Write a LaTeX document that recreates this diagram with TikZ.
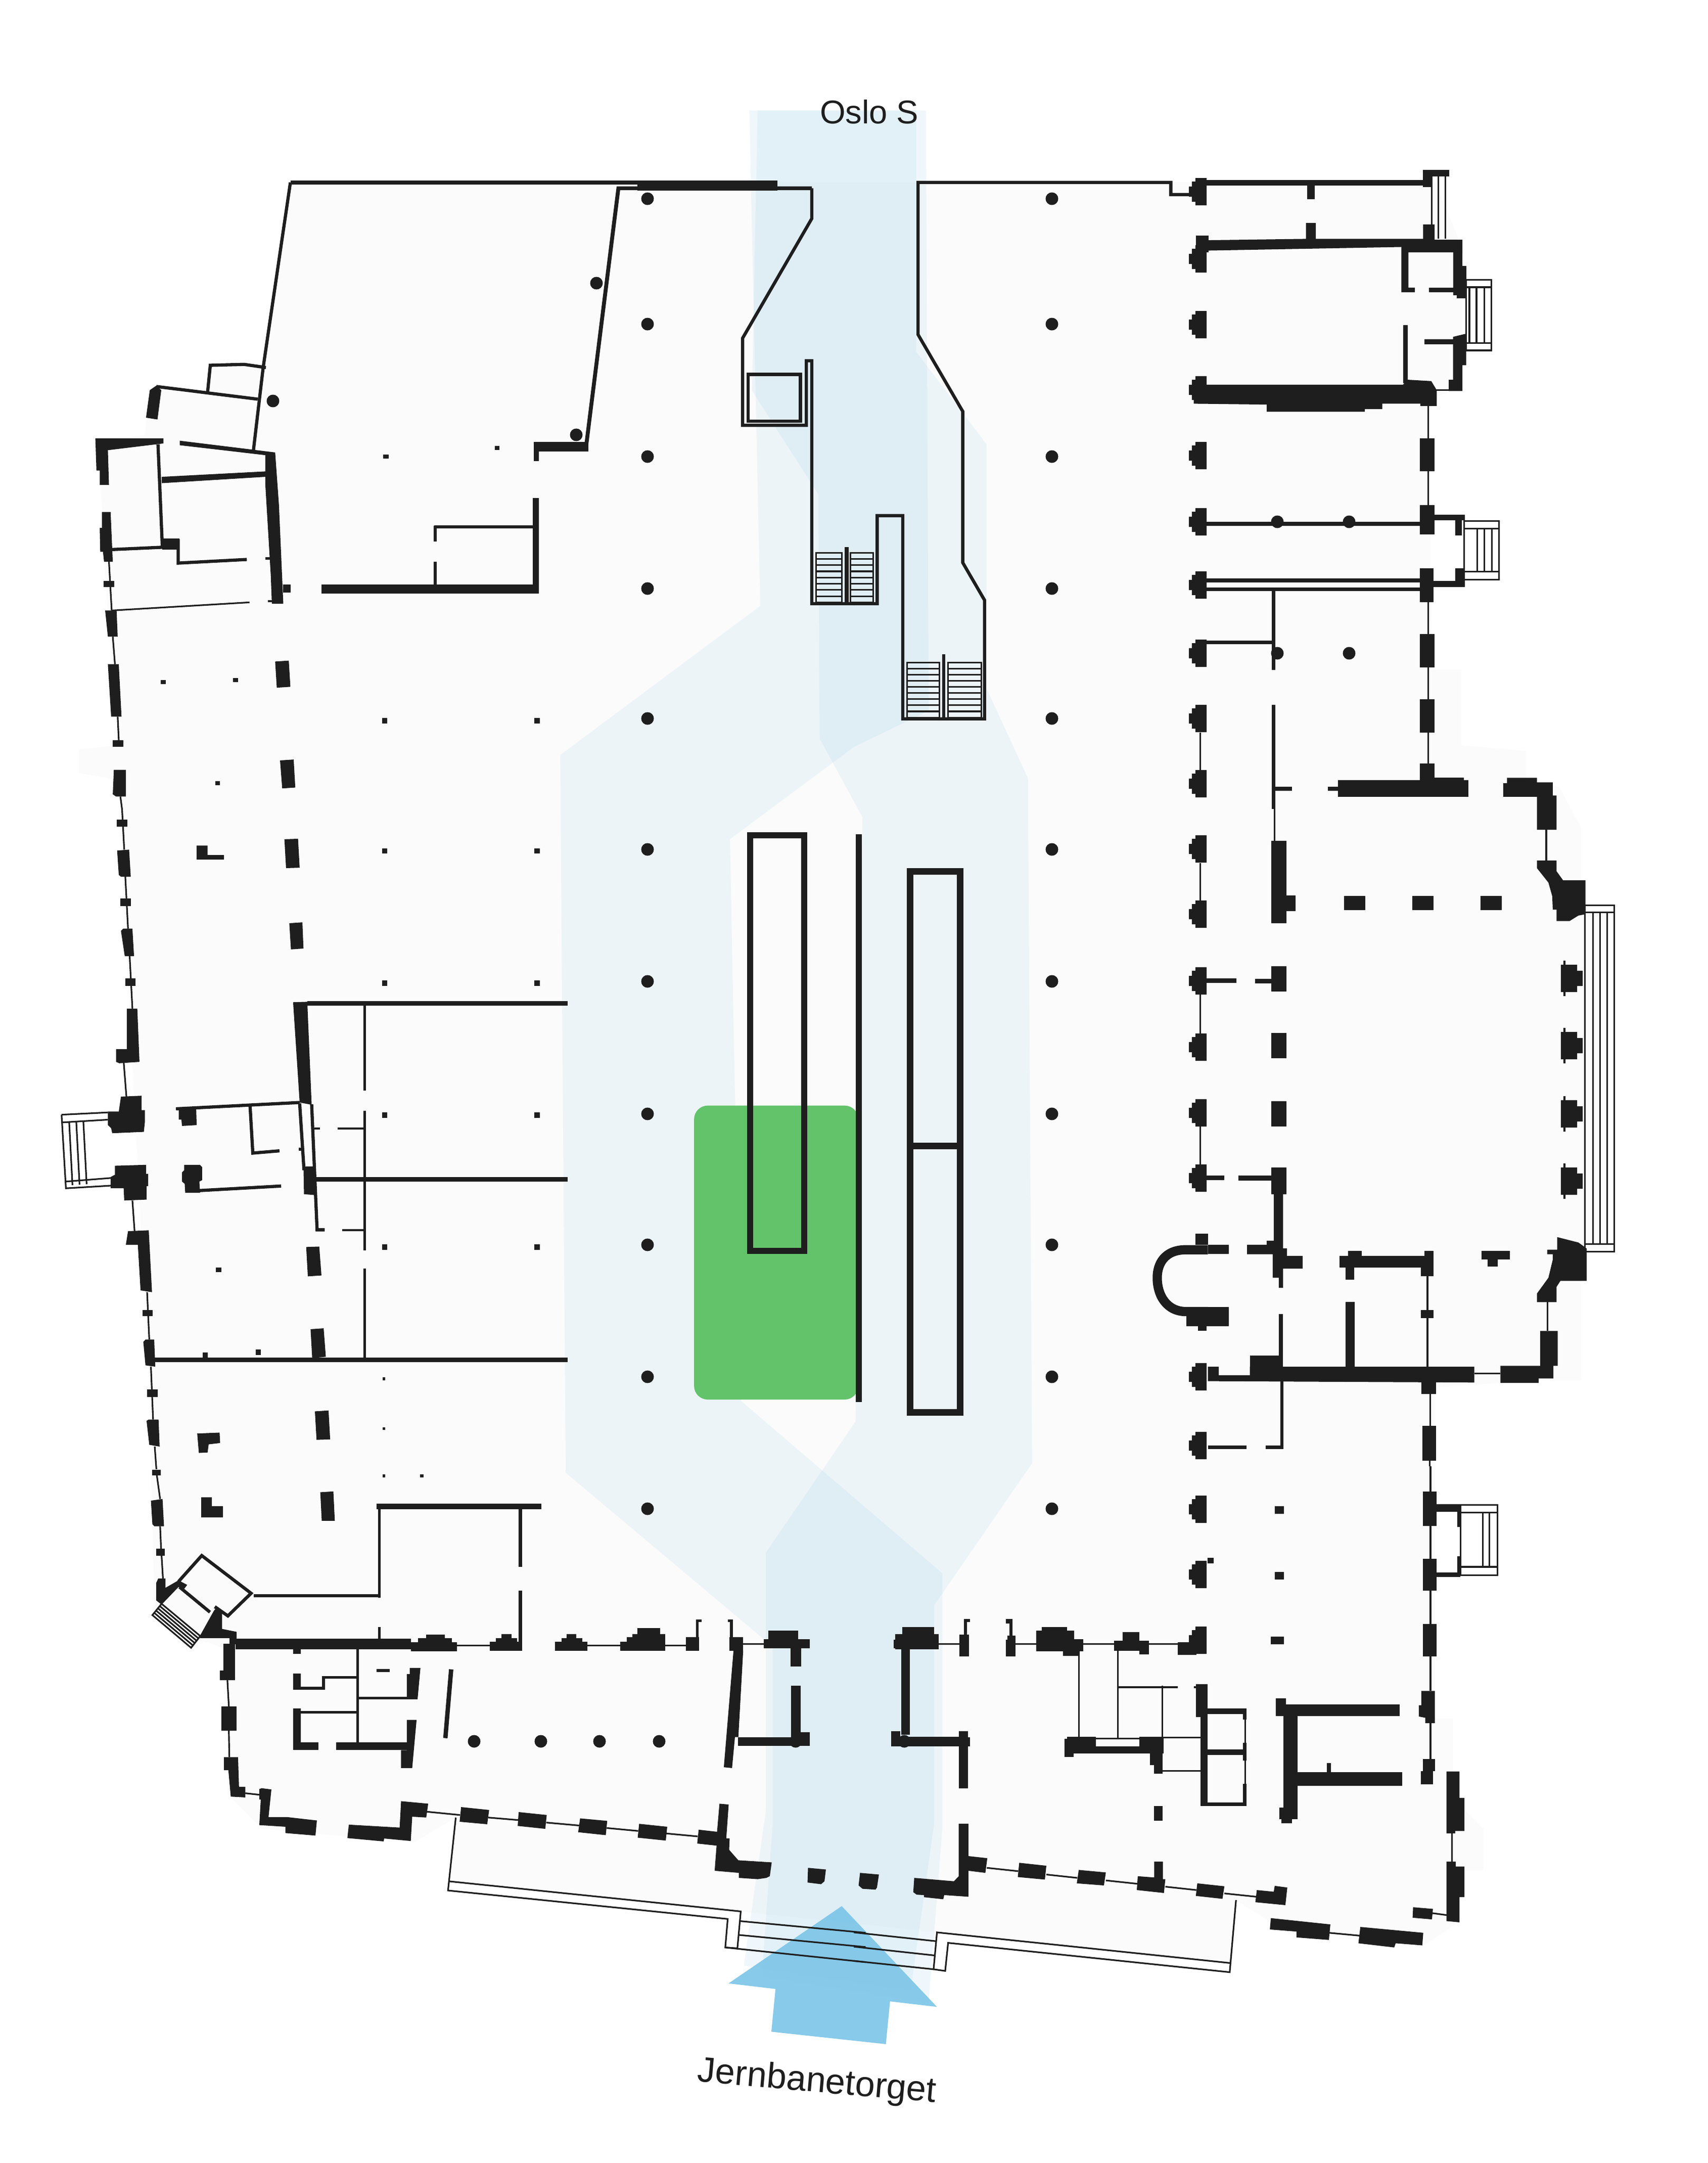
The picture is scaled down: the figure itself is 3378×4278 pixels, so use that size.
\documentclass[tikz,border=0pt]{standalone}
\usepackage{fontspec}
\setmainfont{Liberation Sans}
\definecolor{ink}{HTML}{1E1E1E}
\definecolor{floorgrey}{HTML}{FBFBFB}
\definecolor{routeblue}{HTML}{88C5E4}
\definecolor{shopgreen}{HTML}{63C36A}
\definecolor{arrowblue}{HTML}{7DC5E8}
\tikzset{
	hair/.style={draw=ink,line width=0.9pt},
	partition/.style={draw=ink,line width=1.8pt},
	route/.style={fill=routeblue,fill opacity=0.13},
	sheetw/.style={shift={(0,200)},x=0.010772cm,y=-0.008929cm},
	sheete/.style={shift={(1689,200)},x=0.010772cm,y=-0.008929cm},
	midw/.style={shift={(0,1600)},x=0.010772cm,y=-0.008929cm},
	mide/.style={shift={(1689,1500)},x=0.010772cm,y=-0.008929cm},
	lowerw/.style={shift={(200,2900)},x=0.009566cm,y=-0.00829cm},
	lowere/.style={shift={(1689,2900)},x=0.009566cm,y=-0.00829cm},
	overview/.style={x=0.02729cm,y=-0.02729cm}
}
\newcommand\blocks[1]{\foreach \a/\b/\c/\d in {#1} \fill[ink] (\a,\b) rectangle (\c,\d);}
\newcommand\hairs[1]{\foreach \a/\b/\c/\d in {#1} \draw[hair] (\a,\b) -- (\c,\d);}
\newcommand\pillarw[2]{\fill[ink] (#1,#2) ++(0,-10) rectangle ++(13,20) (#1,#2) ++(6,-20) rectangle ++(7,40) (#1,#2) ++(13,-27) rectangle ++(22,54);}
\newcommand\pillare[2]{\fill[ink] (#1,#2) ++(0,-27) rectangle ++(32,54) (#1,#2) ++(32,-15) rectangle ++(11,30) (#1,#2) ++(5,-35) rectangle ++(4,70);}
\newcommand\treads[5]{\draw[hair] (#1,#2) rectangle (#3,#4);
	\foreach \i in {1,...,#5} {\pgfmathsetmacro\yy{#2+\i*(#4-#2)/(#5+1)} \draw[hair] (#1,\yy) -- (#3,\yy);}}
\begin{document}
\begin{tikzpicture}[x=0.01cm,y=-0.01cm]
	\useasboundingbox (0,0) rectangle (3378,4278);

	%%%%% floor and routes %%%%%
	\begin{scope}[overview]
		\fill[floorgrey] (211,132) -- (1040,132) -- (1060,180) -- (1060,280) -- (1035,290) -- (1038,485) -- (1059,485) -- (1059,540) -- (1106,544) -- (1106,565) -- (1130,570) -- (1146,600) -- (1146,660) -- (1165,660) -- (1165,905) -- (1146,905) -- (1146,1000) -- (1120,1000) -- (1040,1005) -- (1040,1245) -- (1053,1245) -- (1053,1310) -- (1060,1310) -- (1075,1325) -- (1075,1355) -- (1058,1355) -- (1058,1392) -- (1031,1410) -- (920,1392) -- (896,1377) -- (891,1423) -- (679,1400) -- (537,1385) -- (325,1363) -- (330,1317) -- (300,1335) -- (190,1325) -- (165,1300) -- (165,1195) -- (135,1185) -- (112,1165) -- (108,1000) -- (85,565) -- (57,560) -- (57,543) -- (85,540) -- (75,400) -- (72,320) -- (105,315) -- (108,283) -- (150,285) -- (153,265) -- (191,264) -- cycle;
		\fill[route] (543,80) -- (671,80) -- (673,515) -- (619,541) -- (529,608) -- (537,1015) -- (683,1140) -- (683,1324) -- (673,1451) -- (552,1432) -- (560,1321) -- (560,1193) -- (410,1067) -- (406,547) -- (551,439) -- cycle;
		\fill[route] (549,80) -- (664,80) -- (664,255) -- (715,322) -- (715,499) -- (745,564) -- (748,1060) -- (677,1163) -- (677,1321) -- (660,1442) -- (539,1424) -- (555,1312) -- (555,1125) -- (620,1030) -- (625,592) -- (594,535) -- (593,358) -- (545,283) -- cycle;
		\fill[shopgreen,rounded corners=0.27cm] (503,801) rectangle (622,1014);
		\fill[arrowblue,fill opacity=0.92] (610,1381) -- (679,1454) -- (645,1450) -- (642,1481) -- (559,1472) -- (562,1441) -- (528,1437) -- cycle;
		\node (oslo) at (630,81) {\fontsize{18.5}{20}\selectfont\color{ink}Oslo S};
		\node[rotate=-5] (jernbanetorget) at (592,1509) {\fontsize{20}{22}\selectfont\color{ink}Jernbanetorget};
	\end{scope}

	%%%%% columns %%%%%
	\foreach \y in {393,641,903,1164,1421,1680,1941,2203,2462,2723,2984} {
		\fill[ink] (1281,\y) circle (0.125cm);
		\fill[ink] (2081,\y) circle (0.125cm);
	}
	\foreach \x/\y in {1180/560,1140/860,540/793,2527/1032,2669/1032,2527/1292,2669/1292,938/3444,1070/3444,1186/3444,1304/3444,1574/3444,1789/3444} {
		\fill[ink] (\x,\y) circle (0.125cm);
	}
	\foreach \y in {379,512,642,771,901,1032,1157,1292,1421,1550,1679,1808,1940,2071,2201,2330,2723,2859,2985,3114,3244} {
		\pillarw{2352}{\y}
	}
	\foreach \y in {1935,2068,2203,2336} {
		\pillare{3088}{\y}
	}

	%%%%% north west %%%%%
	\begin{scope}[sheetw]
		\draw[partition] (533,180) -- (483,590) -- (465,775);
		\draw[draw=ink,line width=2.2pt] (533,180) -- (1172,180);
		\draw[draw=ink,line width=2.2pt] (1075,772) -- (1135,193) -- (1490,193);
		\draw[partition] (1490,193) -- (1490,260) -- (1363,525) -- (1363,718) -- (1480,718) -- (1480,575) -- (1490,575) -- (1490,1113) -- (1568,1113);
		\draw[partition] (1373,605) rectangle (1469,709);
		\draw[partition] (381,645) -- (386,585) -- (448,583) -- (488,590);
		\draw[partition] (287,632) -- (473,660);
		\draw[partition] (290,760) -- (298,988) -- (205,993);
		\draw[partition] (327,970) -- (327,1023) -- (453,1015);
		\draw[partition] (797,943) -- (980,943);
		\draw[partition] (799,941) -- (799,975);
		\draw[partition] (799,1020) -- (799,1070);
		\treads{1498}{1000}{1545}{1110}{7}
		\blocks{1170/176/1427/198, 980/755/1080/776, 980/776/989/797, 590/1070/989/1090, 978/879/989/1070, 298/968/329/993, 520/1070/533/1088, 487/1010/497/1016, 492/1105/500/1110, 190/1062/210/1076, 207/1415/226/1430, 1550/988/1558/1112, 703/783/713/792, 908/764/917/773, 295/1282/304/1291, 428/1277/437/1286, 701/1366/711/1378, 981/1366/991/1378, 395/1506/404/1515}
		\hairs{200/1020/205/1128, 205/1128/458/1110, 207/1186/211/1247, 216/1363/218/1415, 221/1540/224/1568}
		\fill[ink] (275,640) -- (287,630) -- (296,640) -- (289,705) -- (268,701) -- cycle;
		\fill[ink] (175,747) -- (300,747) -- (300,758) -- (198,773) -- (200,850) -- (183,850) -- (183,818) -- (177,818) -- cycle;
		\fill[ink] (187,910) -- (203,910) -- (207,1020) -- (191,1020) -- (189,998) -- (184,998) -- (183,945) -- (187,945) -- cycle;
		\fill[ink] (330,752) -- (505,778) -- (512,895) -- (520,1113) -- (499,1113) -- (497,1050) -- (487,850) -- (487,784) -- (330,762) -- cycle;
		\fill[ink] (297,832) -- (487,820) -- (487,832) -- (297,846) -- cycle;
		\fill[ink] (193,1128) -- (214,1128) -- (216,1186) -- (198,1186) -- cycle;
		\fill[ink] (198,1247) -- (218,1247) -- (223,1363) -- (204,1363) -- cycle;
		\fill[ink] (209,1481) -- (231,1481) -- (231,1540) -- (213,1540) -- (207,1535) -- cycle;
		\fill[ink] (505,1241) -- (530,1239) -- (533,1297) -- (508,1299) -- cycle;
		\fill[ink] (514,1460) -- (539,1458) -- (542,1520) -- (518,1522) -- cycle;
	\end{scope}

	%%%%% north east %%%%%
	\begin{scope}[sheete]
		\draw[partition] (0,1113) -- (43,1113) -- (43,918) -- (90,918) -- (90,1368) -- (240,1368) -- (240,1105) -- (200,1022) -- (200,687) -- (118,517) -- (118,180) -- (582,180) -- (582,207) -- (615,207);
		\treads{-6}{1000}{36}{1110}{7}
		\treads{98}{1243}{157}{1365}{8}
		\treads{173}{1243}{234}{1365}{8}
		\draw[hair] (1120,930) rectangle (1184,1060);
		\draw[hair] (1124,396) rectangle (1170,552);
		\hairs{1124/412/1170/412, 1124/536/1170/536, 1130/412/1130/536, 1143/412/1143/536, 1157/412/1157/536, 1061/167/1061/305, 1073/167/1073/305, 1086/167/1086/305, 1120/947/1184/947, 1120/1042/1184/1042, 1144/947/1144/1042, 1157/947/1157/1042, 1171/947/1171/1042, 1054/675/1054/748, 1054/820/1054/895, 1054/1110/1054/1180, 1054/1254/1054/1325, 1054/1398/1054/1467, 636/1398/636/1482, 1068/640/1092/640}
		\blocks{162/1225/168/1365, 648/175/1050/187, 832/187/846/217, 1045/152/1093/167, 1045/152/1060/190, 628/298/651/335, 1100/335/1117/430, 1107/365/1124/437, 1056/413/1100/423, 1008/496/1017/625, 1047/527/1100/538, 1039/747/1066/820, 1039/895/1066/960, 1066/916/1122/928, 1104/928/1116/962, 648/931/1039/941, 1039/1035/1064/1110, 1064/1063/1122/1076, 1104/1035/1122/1063, 648/1057/1039/1066, 648/1077/1039/1085, 767/1085/774/1260, 648/1195/767/1203, 767/1337/774/1568, 1039/1180/1066/1254, 1039/1325/1066/1398, 1039/1467/1066/1505}
		\fill[ink] (628,298) -- (651,298) -- (651,308) -- (830,305) -- (830,270) -- (848,270) -- (848,305) -- (1045,305) -- (1045,273) -- (1066,273) -- (1066,307) -- (1117,307) -- (1117,335) -- (1018,335) -- (1018,413) -- (1030,413) -- (1030,423) -- (1005,423) -- (1005,323) -- (648,331) -- cycle;
		\fill[ink] (1100,522) -- (1124,515) -- (1124,585) -- (1117,585) -- (1117,642) -- (1092,642) -- (1092,617) -- (1100,617) -- cycle;
		\fill[ink] (624,628) -- (1008,628) -- (1017,617) -- (1060,620) -- (1070,640) -- (1070,675) -- (1040,675) -- (1040,670) -- (970,670) -- (970,682) -- (938,682) -- (938,688) -- (758,688) -- (758,672) -- (624,670) -- cycle;
	\end{scope}

	%%%%% west middle %%%%%
	\begin{scope}[midw]
		\draw[hair] (113,677) -- (198,672);
		\draw[hair] (113,677) -- (121,840) -- (205,834);
		\hairs{115/694/198/688, 121/825/205/817, 127/694/133/833, 140/693/146/832, 153/692/159/831}
		\hairs{224/0/228/90, 230/150/235/265, 238/326/243/442, 227/560/232/637, 243/867/247/935, 270/1070/274/1175, 277/1235/281/1352, 284/1412/287/1462}
		\draw[partition] (459,658) -- (464,762) -- (513,757);
		\draw[partition] (550,652) -- (558,800);
		\draw[partition] (572,654) -- (582,932) -- (596,932);
		\draw[partition] (366,845) -- (516,835);
		\draw[partition] (323,664) -- (550,650);
		\blocks{214/23/234/39, 221/198/240/215, 230/375/249/392, 262/1110/280/1123, 270/1285/289/1302, 561/792/576/800, 577/705/587/710, 620/705/670/710, 628/930/670/935, 564/426/1042/436, 667/436/672/624, 667/668/672/977, 667/1018/672/1216, 580/815/1042/825, 284/1215/1042/1225, 548/750/555/757, 701/87/711/99, 981/87/991/99, 701/380/711/392, 981/380/991/392, 701/672/711/684, 981/672/991/684, 701/964/711/976, 981/964/991/976, 396/1015/406/1026, 372/1204/381/1216, 469/1197/479/1209, 702/1259/707/1265, 702/1369/707/1375, 702/1474/707/1480, 771/1474/777/1480}
		\fill[ink] (215,92) -- (237,90) -- (240,150) -- (222,150) -- (218,146) -- cycle;
		\fill[ink] (226,265) -- (243,265) -- (246,326) -- (229,326) -- (222,270) -- cycle;
		\fill[ink] (233,442) -- (252,442) -- (256,560) -- (219,563) -- (213,560) -- (213,532) -- (233,532) -- cycle;
		\fill[ink] (222,637) -- (260,635) -- (260,667) -- (266,667) -- (266,692) -- (264,715) -- (206,718) -- (204,707) -- (198,700) -- (198,670) -- (218,670) -- cycle;
		\fill[ink] (211,790) -- (268,788) -- (268,808) -- (272,808) -- (272,835) -- (269,835) -- (269,865) -- (228,867) -- (227,840) -- (203,840) -- (203,815) -- (211,810) -- cycle;
		\fill[ink] (235,935) -- (273,933) -- (279,1070) -- (258,1066) -- (253,965) -- (231,965) -- cycle;
		\fill[ink] (267,1175) -- (283,1175) -- (285,1235) -- (267,1232) -- (263,1180) -- cycle;
		\fill[ink] (273,1352) -- (291,1352) -- (293,1412) -- (274,1408) -- (269,1355) -- cycle;
		\fill[ink] (361,81) -- (381,81) -- (381,102) -- (411,102) -- (411,112) -- (361,112) -- cycle;
		\fill[ink] (522,67) -- (547,66) -- (550,130) -- (525,131) -- cycle;
		\fill[ink] (531,253) -- (555,251) -- (557,309) -- (534,311) -- cycle;
		\fill[ink] (538,428) -- (564,427) -- (572,655) -- (550,650) -- cycle;
		\fill[ink] (328,663) -- (360,661) -- (361,700) -- (334,702) -- (333,688) -- (328,688) -- cycle;
		\fill[ink] (557,792) -- (576,792) -- (579,855) -- (558,853) -- cycle;
		\fill[ink] (338,788) -- (367,788) -- (371,793) -- (371,822) -- (366,825) -- (367,850) -- (340,850) -- (339,830) -- (334,825) -- (334,805) -- (338,800) -- cycle;
		\fill[ink] (562,970) -- (586,969) -- (590,1033) -- (565,1035) -- cycle;
		\fill[ink] (570,1152) -- (594,1150) -- (598,1213) -- (573,1216) -- cycle;
		\fill[ink] (578,1334) -- (603,1332) -- (606,1396) -- (581,1397) -- cycle;
		\fill[ink] (362,1383) -- (403,1381) -- (404,1404) -- (383,1407) -- (381,1425) -- (365,1426) -- cycle;
		%% long shelves in the hall
		\draw[ink,line width=3.4pt] (1377,58) rectangle (1476,979);
	\end{scope}

	%%%%% east middle %%%%%
	\begin{scope}[mide]
		\draw[ink,line width=3.7pt] (103,250) rectangle (195,1448);
		\draw[ink,line width=3.7pt] (103,858) -- (195,858);
		\draw[hair] (1342,325) rectangle (1396,1092);
		\hairs{1342/341/1396/341, 1342/1075/1396/1075, 1357/341/1357/1075, 1370/341/1370/1075, 1383/341/1383/1075}
		\hairs{772/85/772/183, 1271/158/1271/226, 636/232/636/315, 636/523/636/610, 636/815/636/900, 1053/1147/1053/1350, 1139/1362/1187/1362, 1273/1204/1273/1268, 1058/1407/1058/1478, 1057/1555/1057/1568}
		\draw[ink,line width=5.2pt] (650,1088) -- (610,1088) .. controls (570,1088) and (557,1120) .. (557,1150) .. controls (557,1190) and (575,1225) .. (610,1225) -- (650,1225);
		\blocks{4/168/15/1425, 889/48/1128/85, 1066/43/1120/48, 870/63/889/72, 773/63/804/72, 767/112/774/85, 766/183/794/365, 794/303/811/338, 900/305/939/336, 1025/305/1064/336, 1150/305/1189/336, 648/487/702/497, 737/488/766/498, 766/460/794/516, 766/608/794/664, 766/759/794/815, 648/924/680/934, 706/924/770/935, 766/906/794/965, 627/1053/650/1077, 650/1077/688/1097, 610/1215/688/1257, 632/1257/648/1268, 907/1090/932/1102, 892/1102/1047/1127, 903/1127/918/1154, 1047/1090/1064/1127, 1041/1127/1064/1147, 1152/1090/1204/1110, 1163/1110/1182/1125, 1041/1222/1064/1240, 903/1204/919/1350, 780/1230/788/1350, 727/1322/780/1350, 1042/1375/1069/1407, 1044/1478/1069/1555, 783/1379/789/1530, 756/1522/789/1530, 650/1522/721/1530}
		\fill[ink] (1199,43) -- (1254,43) -- (1254,53) -- (1283,53) -- (1283,82) -- (1290,82) -- (1290,158) -- (1254,158) -- (1254,85) -- (1192,85) -- (1192,55) -- (1199,55) -- cycle;
		\fill[ink] (1254,226) -- (1290,226) -- (1290,250) -- (1302,270) -- (1343,270) -- (1343,345) -- (1330,348) -- (1314,360) -- (1290,360) -- (1290,335) -- (1283,335) -- (1282,305) -- (1275,275) -- (1254,243) -- cycle;
		\fill[ink] (1273,1088) -- (1291,1088) -- (1291,1060) -- (1330,1072) -- (1345,1085) -- (1345,1157) -- (1297,1157) -- (1290,1170) -- (1290,1204) -- (1254,1204) -- (1254,1185) -- (1275,1150) -- (1283,1110) -- (1283,1098) -- (1273,1098) -- cycle;
		\fill[ink] (771,965) -- (788,965) -- (788,1085) -- (795,1085) -- (795,1102) -- (824,1102) -- (824,1130) -- (788,1130) -- (788,1172) -- (780,1172) -- (780,1150) -- (769,1150) -- (769,1098) -- (722,1098) -- (722,1077) -- (758,1077) -- (758,1068) -- (771,1068) -- cycle;
		\fill[ink] (650,1347) -- (670,1347) -- (670,1366) -- (727,1366) -- (727,1347) -- (1139,1347) -- (1139,1382) -- (650,1379) -- cycle;
		\fill[ink] (1187,1345) -- (1260,1345) -- (1260,1268) -- (1292,1268) -- (1292,1345) -- (1284,1345) -- (1284,1373) -- (1257,1373) -- (1257,1383) -- (1187,1383) -- cycle;
	\end{scope}

	%%%%% south west %%%%%
	\begin{scope}[lowerw]
		\draw[hair] (733,838) -- (717,1012) -- (1295,1080) -- (1290,1148) -- (1315,1150) -- (1322,1062) -- (718,990);
		\hairs{1320/1085/1580/1113, 1317/1118/1580/1147, 1290/1148/1580/1183}
		\hairs{115/20/122/78, 122/143/124/197, 125/213/128/270, 261/510/264/573, 264/631/265/694, 298/780/330/784, 672/824/742/832, 800/838/862/844, 920/850/988/857, 1045/863/1110/870, 1168/876/1233/883, 735/428/803/428, 1005/428/1073/428, 1166/428/1209/428, 1327/424/1370/424}
		\draw[partition] (160,275) -- (208,213) -- (310,303) -- (262,357) -- (235,335);
		\draw[partition] (162,288) -- (225,348);
		\draw[hair] (125,328) -- (106,355) -- (186,433) -- (205,405) -- cycle;
		\foreach \i in {1,2,3,4} {\draw[hair] (125-3.8*\i,328+5.4*\i) -- (205-3.8*\i,405+5.6*\i);}
		\blocks{569/89/910/103, 572/103/578/313, 863/103/870/240, 863/297/870/440, 572/384/578/411, 315/305/575/312, 265/410/280/425, 278/411/640/437, 640/420/735/442, 655/410/725/420, 672/402/710/410, 803/418/870/440, 816/410/860/418, 827/400/848/410, 938/418/1005/440, 952/410/995/418, 962/400/982/410, 1073/418/1166/440, 1086/408/1166/418, 1098/400/1166/410, 1108/386/1155/400, 1209/408/1236/440, 1230/365/1235/408, 1230/365/1241/371, 1295/365/1306/371, 1300/365/1306/410, 1299/408/1327/440, 1370/413/1465/434, 1379/392/1441/413, 1425/434/1447/478, 1426/523/1446/634, 1426/634/1465/667, 1316/646/1426/667, 253/423/277/510, 245/487/253/510, 249/573/280/631, 397/437/413/447, 528/437/533/660, 532/550/654/556, 569/484/597/491, 397/495/413/533, 413/526/463/533, 457/500/463/526, 463/500/528/507, 397/578/413/677, 413/584/528/590, 413/658/449/677, 486/659/632/677, 114/197/132/213, 105/8/123/22}
		\fill[ink] (103,82) -- (127,78) -- (130,143) -- (110,143) -- (106,138) -- cycle;
		\fill[ink] (207,74) -- (229,74) -- (229,95) -- (252,95) -- (252,122) -- (207,122) -- cycle;
		\fill[ink] (453,62) -- (480,60) -- (483,130) -- (456,130) -- cycle;
		\fill[ink] (114,278) -- (118,268) -- (133,268) -- (133,290) -- (160,272) -- (178,283) -- (172,292) -- (160,288) -- (125,330) -- (114,320) -- cycle;
		\fill[ink] (205,403) -- (233,345) -- (240,335) -- (250,348) -- (250,388) -- (280,395) -- (280,410) -- (205,410) -- cycle;
		\fill[ink] (1307,440) -- (1327,440) -- (1317,646) -- (1310,646) -- (1304,720) -- (1287,718) -- cycle;
		\fill[ink] (638,481) -- (660,481) -- (654,556) -- (632,556) -- (632,496) -- (638,496) -- cycle;
		\fill[ink] (632,605) -- (652,605) -- (643,720) -- (620,720) -- (620,677) -- (632,677) -- cycle;
		\fill[ink] (719,484) -- (728,485) -- (716,649) -- (707,648) -- cycle;
		\fill[ink] (254,694) -- (283,694) -- (285,765) -- (298,765) -- (298,790) -- (268,788) -- (263,725) -- (254,725) -- cycle;
		\fill[ink] (332,768) -- (352,771) -- (346,837) -- (385,837) -- (446,845) -- (443,881) -- (381,875) -- (381,860) -- (327,856) -- (330,795) -- (327,795) -- (327,770) -- cycle;
		\fill[ink] (512,855) -- (617,862) -- (620,799) -- (676,805) -- (672,838) -- (643,836) -- (640,894) -- (585,888) -- (584,895) -- (509,887) -- cycle;
		\fill[ink] (744,813) -- (802,820) -- (798,854) -- (741,848) -- cycle;
		\fill[ink] (863,825) -- (921,832) -- (918,865) -- (861,858) -- cycle;
		\fill[ink] (990,840) -- (1046,846) -- (1043,880) -- (986,873) -- cycle;
		\fill[ink] (1112,853) -- (1170,860) -- (1167,893) -- (1109,886) -- cycle;
		\fill[ink] (1235,867) -- (1273,872) -- (1278,805) -- (1297,807) -- (1292,888) -- (1299,888) -- (1298,915) -- (1317,940) -- (1386,945) -- (1382,978) -- (1375,982) -- (1357,985) -- (1318,982) -- (1318,970) -- (1268,965) -- (1272,905) -- (1232,900) -- cycle;
		\fill[ink] (1461,958) -- (1498,962) -- (1495,990) -- (1488,997) -- (1460,993) -- cycle;
	\end{scope}

	%%%%% south east %%%%%
	\begin{scope}[lowere]
		\draw[hair] (790,1035) -- (777,1207) -- (195,1137) -- (189,1204) -- (165,1200) -- (172,1112) -- (777,1185);
		\hairs{0/1112/170/1133, 0/1146/167/1167, 0/1180/165/1200}
		\hairs{275/958/340/966, 398/974/462/982, 521/988/586/996, 644/1003/708/1011, 766/1019/832/1027, 982/1113/1047/1120, 1195/1066/1227/1071, 1236/876/1236/943, 1192/0/1192/60, 1192/142/1192/221, 1192/297/1192/376, 1192/454/1192/536, 1192/613/1192/698, 176/424/218/424, 334/424/377/424, 474/424/538/424, 610/424/670/424, 465/442/465/645, 546/440/546/650, 546/527/670/527, 638/524/638/645, 500/650/590/650, 623/647/717/647, 638/727/717/727, 809/604/809/660, 809/702/809/757}
		\draw[hair] (1254,92) rectangle (1330,260);
		\hairs{1254/110/1330/110, 1254/240/1330/240, 1300/110/1300/240, 1314/110/1314/240}
		\blocks{731/218/744/232, 670/420/708/450, 98/437/116/640, 77/632/96/668, 96/645/217/668, 217/632/236/668, 217/646/240/668, 217/668/236/768, 218/402/238/453, 228/364/240/372, 228/372/234/402, 314/364/328/375, 322/375/328/404, 318/404/334/414, 314/414/334/453, 377/392/455/442, 389/383/441/392, 432/412/474/442, 432/442/465/452, 538/416/610/440, 556/396/590/416, 590/440/610/449, 100/383/166/437, 86/400/176/437, 82/414/100/434, 441/645/500/668, 436/650/454/693, 454/668/640/685, 590/645/640/668, 612/685/638/713, 621/713/638/733, 707/520/731/598, 703/525/707/530, 717/598/731/810, 731/578/812/591, 804/591/812/604, 731/675/812/689, 804/660/812/702, 804/757/812/810, 731/802/804/810, 621/811/638/846, 872/554/893/596, 893/568/1128/596, 888/596/917/840, 917/730/1133/762, 978/708/986/730, 880/814/917/842, 884/842/906/851, 1176/60/1204/142, 1204/90/1254/108, 1247/108/1254/145, 1176/221/1204/297, 1204/253/1254/264, 1247/215/1254/253, 1176/376/1204/454, 1176/698/1201/727, 1172/727/1197/759, 870/95/889/113, 870/252/889/270, 862/406/889/425}
		\fill[ink] (13,970) -- (52,974) -- (48,1005) -- (45,1010) -- (18,1008) -- (10,1000) -- cycle;
		\fill[ink] (125,982) -- (207,990) -- (217,978) -- (217,853) -- (237,853) -- (237,1027) -- (187,1023) -- (185,1033) -- (145,1028) -- (145,1023) -- (130,1022) -- (123,1016) -- cycle;
		\fill[ink] (237,930) -- (276,935) -- (272,970) -- (237,965) -- cycle;
		\fill[ink] (342,946) -- (398,953) -- (395,986) -- (339,980) -- cycle;
		\fill[ink] (465,963) -- (521,969) -- (517,1000) -- (461,995) -- cycle;
		\fill[ink] (587,978) -- (621,981) -- (621,943) -- (639,943) -- (639,985) -- (644,985) -- (641,1018) -- (585,1011) -- cycle;
		\fill[ink] (710,995) -- (766,1002) -- (762,1032) -- (707,1025) -- cycle;
		\fill[ink] (833,1011) -- (868,1015) -- (870,1001) -- (896,1005) -- (892,1047) -- (830,1040) -- cycle;
		\fill[ink] (862,1078) -- (985,1093) -- (982,1130) -- (915,1124) -- (915,1110) -- (860,1105) -- cycle;
		\fill[ink] (1047,1099) -- (1177,1113) -- (1175,1143) -- (1120,1138) -- (1117,1148) -- (1043,1138) -- cycle;
		\fill[ink] (1156,1052) -- (1197,1056) -- (1195,1081) -- (1155,1077) -- cycle;
		\fill[ink] (1225,943) -- (1244,943) -- (1244,955) -- (1262,955) -- (1262,1028) -- (1252,1028) -- (1252,1088) -- (1225,1085) -- cycle;
		\fill[ink] (1225,728) -- (1252,728) -- (1252,791) -- (1262,791) -- (1262,870) -- (1243,870) -- (1243,876) -- (1225,876) -- cycle;
		\fill[ink] (1173,536) -- (1201,536) -- (1201,613) -- (1181,613) -- (1181,600) -- (1168,597) -- (1168,570) -- (1173,570) -- cycle;
	\end{scope}
\end{tikzpicture}
\end{document}
